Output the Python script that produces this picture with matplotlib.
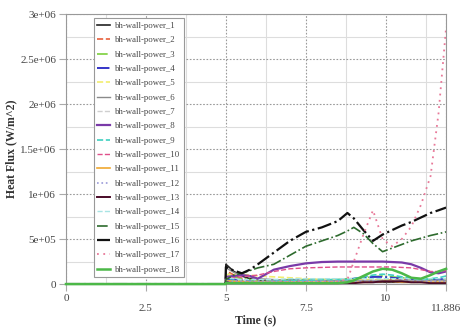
import numpy as np
import matplotlib
matplotlib.use('Agg')
import matplotlib.pyplot as plt
from matplotlib.ticker import MultipleLocator

plt.rcParams['font.family'] = ['Liberation Serif', 'DejaVu Serif']

# time samples (s)
t = [0, 4.99, 5.0, 5.25, 5.5, 5.75, 6.0, 6.5, 7.0, 7.5, 8.0, 8.5, 8.8, 9.0,
     9.3, 9.6, 9.9, 10.2, 10.5, 10.8, 11.1, 11.4, 11.65, 11.886]

# heat flux in units of 1e5 W/m^2
scale = 1e5
p1 = [0, 0, 2.2, 1.4, 0.9, 0.6, 0.4, 0.3, 0.2, 0.2, 0.2, 0.2, 0.2, 0.2, 0.2, 0.2, 0.2, 0.2, 0.2, 0.2, 0.2, 0.2, 0.2, 0.2]
p2 = [0, 0, 1.5, 1.0, 0.6, 0.4, 0.3, 0.2, 0.2, 0.2, 0.2, 0.2, 0.2, 0.2, 0.2, 0.3, 0.4, 0.5, 0.5, 0.4, 0.3, 0.3, 0.3, 0.4]
p3 = [0, 0, 1.2, 0.8, 0.6, 0.5, 0.3, 0.4, 0.5, 0.5, 0.5, 0.5, 0.6, 0.6, 0.7, 0.8, 0.9, 0.8, 0.7, 0.6, 0.5, 0.5, 0.5, 0.6]
p4 = [0, 0, 0.6, 0.5, 0.4, 0.3, 0.2, 0.3, 0.4, 0.4, 0.4, 0.4, 0.5, 0.6, 0.7, 0.8, 0.8, 0.7, 0.6, 0.5, 0.4, 0.4, 0.5, 0.6]
p5 = [0, 0, 1.0, 1.1, 1.1, 1.0, 0.9, 0.8, 0.7, 0.6, 0.5, 0.5, 0.5, 0.5, 0.5, 0.5, 0.5, 0.4, 0.4, 0.3, 0.3, 0.3, 0.3, 0.3]
p6 = [0, 0, 1.8, 1.3, 1.0, 0.8, 0.6, 0.5, 0.4, 0.4, 0.4, 0.4, 0.4, 0.4, 0.4, 0.4, 0.4, 0.4, 0.4, 0.4, 0.4, 0.4, 0.4, 0.4]
p7 = [0, 0, 0.4, 0.3, 0.3, 0.3, 0.3, 0.3, 0.3, 0.3, 0.3, 0.3, 0.3, 0.3, 0.3, 0.3, 0.3, 0.3, 0.3, 0.3, 0.3, 0.3, 0.3, 0.3]
p8 = [0, 0, 0.8, 0.9, 1.0, 0.9, 0.6, 1.6, 2.0, 2.3, 2.45, 2.5, 2.5, 2.5, 2.5, 2.5, 2.5, 2.45, 2.4, 2.2, 1.8, 1.3, 1.2, 1.4]
p9 = [0, 0, 0.5, 0.4, 0.3, 0.3, 0.2, 0.3, 0.4, 0.4, 0.5, 0.5, 0.5, 0.6, 0.8, 1.0, 1.1, 1.0, 0.8, 0.6, 0.5, 0.6, 0.7, 0.9]
p10 = [0, 0, 0.6, 0.7, 0.8, 0.9, 1.0, 1.4, 1.7, 1.8, 1.85, 1.9, 1.9, 1.9, 1.9, 1.9, 1.9, 1.9, 1.85, 1.8, 1.6, 1.4, 1.4, 1.5]
p11 = [0, 0, 0.4, 0.3, 0.3, 0.2, 0.2, 0.2, 0.2, 0.2, 0.2, 0.2, 0.2, 0.2, 0.2, 0.2, 0.3, 0.3, 0.2, 0.2, 0.2, 0.2, 0.2, 0.2]
p12 = [0, 0, 0.3, 0.3, 0.3, 0.3, 0.3, 0.3, 0.3, 0.3, 0.3, 0.3, 0.3, 0.3, 0.3, 0.3, 0.3, 0.3, 0.3, 0.3, 0.3, 0.3, 0.3, 0.3]
p13 = [0, 0, 0.2, 0.1, 0.1, 0.1, 0.1, 0.1, 0.1, 0.1, 0.1, 0.1, 0.1, 0.1, 0.2, 0.2, 0.3, 0.3, 0.3, 0.2, 0.2, 0.1, 0.1, 0.1]
p14 = [0, 0, 0.7, 0.6, 0.5, 0.5, 0.5, 0.5, 0.6, 0.6, 0.6, 0.6, 0.6, 0.6, 0.6, 0.6, 0.6, 0.6, 0.6, 0.6, 0.6, 0.6, 0.6, 0.6]
p15 = [0, 0, 0.5, 1.0, 1.2, 1.5, 1.8, 2.2, 3.2, 4.2, 4.8, 5.4, 5.9, 6.3, 5.6, 4.5, 3.6, 4.0, 4.4, 4.8, 5.1, 5.4, 5.6, 5.8]
p16 = [0, 0, 1.9, 1.5, 1.2, 1.6, 2.2, 3.5, 4.8, 5.8, 6.3, 7.0, 7.9, 7.3, 6.0, 4.8, 5.5, 6.0, 6.5, 6.9, 7.4, 7.9, 8.2, 8.5]
p17 = [0, 0, 0.2, 0.2, 0.2, 0.2, 0.2, 0.2, 0.2, 0.2, 0.2, 0.3, 0.5, 2.5, 5.5, 8.2, 5.0, 4.2, 5.0, 6.4, 8.8, 12.0, 19.0, 28.5]
p18 = [0, 0, 0.1, 0.1, 0.1, 0.1, 0.1, 0.1, 0.1, 0.1, 0.1, 0.1, 0.2, 0.4, 0.9, 1.4, 1.7, 1.6, 1.2, 0.7, 0.6, 1.0, 1.4, 1.7]

series = [p1, p2, p3, p4, p5, p6, p7, p8, p9, p10, p11, p12, p13, p14, p15, p16, p17, p18]
labels = ['bh-wall-power_%d' % (i + 1) for i in range(18)]

colors = ['#222222', '#e8603c', '#7ccf3c', '#3535c8', '#f2ee70', '#8a8a8a',
          '#cfcfcf', '#7a3aa8', '#40d0c0', '#e0508a', '#f0a830', '#9a9ad8',
          '#4a0a28', '#a8e4e4', '#2e6b2e', '#111111', '#e87898', '#4cb848']
styles = ['-', '--', '-.', '-.', '--', '-', '--', '-', '--', '--', '-', ':',
          '-', '--', '-.', '-.', (0, (1, 2.5)), '-']
widths = [1.2, 1.2, 1.2, 1.4, 1.2, 1.0, 1.0, 1.6, 1.2, 1.0, 1.2, 1.2,
          1.4, 1.0, 1.2, 1.6, 1.3, 1.8]

fig = plt.figure(figsize=(4.63, 3.35), dpi=100)
ax = fig.add_axes([0.1425, 0.152, 0.821, 0.806])

time = np.array(t)
for vals, lab, c, ls, lw in zip(series, labels, colors, styles, widths):
    line, = ax.plot(time, np.array(vals) * scale, color=c, linestyle=ls, linewidth=lw, label=lab)
# last series (green) sits on the zero line, keep it above the spine
line.set_clip_on(False)
line.set_zorder(3)

ax.set_xlim(0, 11.886)
ax.set_ylim(0, 3e6)

xticks = [0, 2.5, 5, 7.5, 10, 11.886]
xlabels = ['0', '\n2.5', '5', '\n7.5', '10', '\n11.886']
ax.set_xticks(xticks)
ax.set_xticklabels(xlabels)
ax.xaxis.set_minor_locator(MultipleLocator(1.25))

yticks = [0, 5e5, 1e6, 1.5e6, 2e6, 2.5e6, 3e6]
ylabels = ['0', '5e+05', '1e+06', '1.5e+06', '2e+06', '2.5e+06', '3e+06']
ax.set_yticks(yticks)
ax.set_yticklabels(ylabels)
ax.yaxis.set_minor_locator(MultipleLocator(2.5e5))

ax.grid(True, which='major', color='#9a9a9a', linestyle=(0, (1.5, 1.5)), linewidth=0.8)
ax.grid(True, which='minor', color='#dddddd', linestyle='-', linewidth=0.8)
ax.set_axisbelow(True)

ax.tick_params(which='major', length=5, color='#aaaaaa', labelsize=8, labelcolor='#444444', pad=2)
ax.tick_params(which='minor', length=0)
for s in ax.spines.values():
    s.set_color('#999999')

ax.set_xlabel('Time (s)', fontsize=8.5, fontweight='bold', color='#333333', labelpad=1)
ax.set_ylabel('Heat Flux (W/m^2)', fontsize=8.5, fontweight='bold', color='#333333', labelpad=2)

leg = ax.legend(loc='upper left', bbox_to_anchor=(0.062, 1.0), fontsize=6.3,
                labelspacing=0.71, handlelength=1.4, handletextpad=0.6,
                borderpad=0.4, fancybox=False, framealpha=1.0, edgecolor='#999999')
leg.get_frame().set_linewidth(0.8)
for txt in leg.get_texts():
    txt.set_color('#444444')

fig.savefig('out.png', dpi=100)
